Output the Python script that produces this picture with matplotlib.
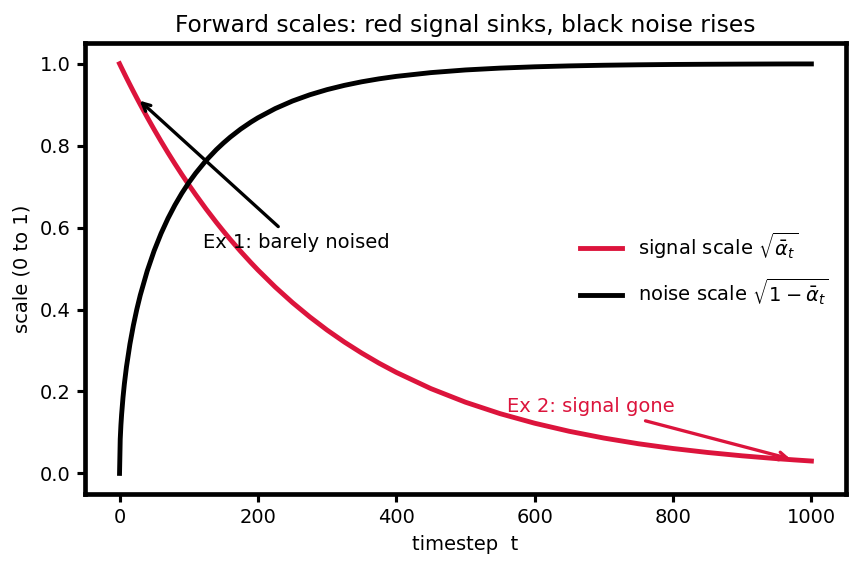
import matplotlib
matplotlib.use("Agg")
import matplotlib.pyplot as plt

# values
timesteps = [0, 1, 2, 3, 5, 7, 10, 15, 20, 25, 30, 40, 50, 60, 70, 80, 90, 100,
             110, 125, 140, 150, 160, 175, 190, 200, 225, 250, 275, 300, 325, 350,
             375, 400, 450, 500, 550, 600, 650, 700, 750, 800, 850, 900, 950, 975, 1000]
signal_scale = [1.0, 0.9965, 0.993, 0.9896, 0.9827, 0.9758, 0.9656, 0.9489, 0.9324,
                0.9162, 0.9003, 0.8694, 0.8395, 0.8106, 0.7827, 0.7558, 0.7298,
                0.7047, 0.6805, 0.6456, 0.6126, 0.5916, 0.5712, 0.542, 0.5143,
                0.4966, 0.455, 0.4169, 0.382, 0.3499, 0.3206, 0.2938, 0.2691,
                0.2466, 0.207, 0.1738, 0.1459, 0.1225, 0.1028, 0.0863, 0.0724,
                0.0608, 0.0511, 0.0429, 0.036, 0.033, 0.0302]
noise_scale = [0.0, 0.0836, 0.1181, 0.1438, 0.1852, 0.2187, 0.26, 0.3156, 0.3614,
               0.4007, 0.4353, 0.4941, 0.5434, 0.5856, 0.6224, 0.6548, 0.6837,
               0.7095, 0.7327, 0.7637, 0.7904, 0.8062, 0.8208, 0.8404, 0.8576,
               0.868, 0.8905, 0.909, 0.9242, 0.9368, 0.9472, 0.9559, 0.9631,
               0.9691, 0.9783, 0.9848, 0.9893, 0.9925, 0.9947, 0.9963, 0.9974,
               0.9982, 0.9987, 0.9991, 0.9994, 0.9995, 0.9995]

RED = "#DC143C"

fig = plt.figure(figsize=(858 / 140, 569 / 140), dpi=140)
ax = fig.add_axes([0.099, 0.132, 0.887, 0.792])

ax.plot(timesteps, signal_scale, color=RED, lw=2.5, label=r"signal scale $\sqrt{\bar{\alpha}_t}$")
ax.plot(timesteps, noise_scale, color="black", lw=2.5, label=r"noise scale $\sqrt{1-\bar{\alpha}_t}$")

i1 = timesteps.index(25)
ax.annotate("Ex 1: barely noised", xy=(timesteps[i1], signal_scale[i1]), xytext=(120, 0.55),
            fontsize=10, color="black",
            arrowprops=dict(arrowstyle="->", color="black", lw=1.7))
i2 = timesteps.index(975)
ax.annotate("Ex 2: signal gone", xy=(timesteps[i2], signal_scale[i2]), xytext=(560, 0.15),
            fontsize=10, color=RED,
            arrowprops=dict(arrowstyle="->", color=RED, lw=1.7))

ax.set_title("Forward scales: red signal sinks, black noise rises", fontsize=12)
ax.set_xlabel("timestep  t", fontsize=10)
ax.set_ylabel("scale (0 to 1)", fontsize=10)
ax.tick_params(labelsize=10, width=1.6, length=4)
for s in ax.spines.values():
    s.set_linewidth(2.4)

ax.legend(loc="center right", frameon=False, fontsize=10, handlelength=2.2, labelspacing=0.8)

fig.savefig("out.png", dpi=140)
